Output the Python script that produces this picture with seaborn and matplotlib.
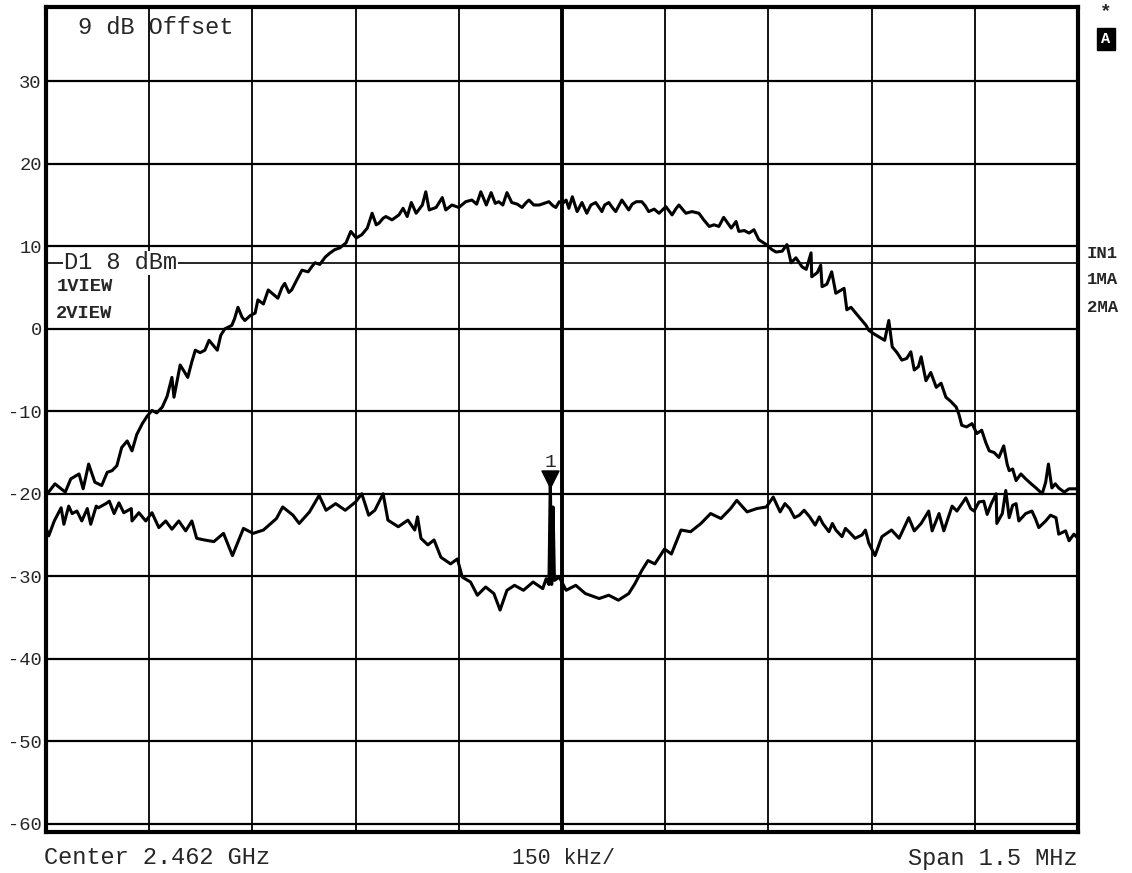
import numpy as np
import pandas as pd
import matplotlib
matplotlib.use("Agg")
import matplotlib.pyplot as plt
import seaborn as sns

# trace 1 (channel power), frequency offset from centre in kHz, level in dBm
upper_freq_khz = [
    -750, -737, -722, -714, -702, -696, -688, -679, -669, -661, -654, -647, -640, -632, -625,
    -618, -610, -603, -596, -589, -581, -574, -567, -564, -555, -549, -544, -538, -533, -526,
    -519, -513, -509, -501, -496, -490, -480, -476, -471, -465, -461, -453, -446, -442, -434,
    -427, -420, -413, -407, -403, -397, -393, -385, -378, -369, -363, -359, -352, -344, -337,
    -330, -323, -314, -307, -299, -291, -283, -276, -270, -266, -260, -256, -247, -237, -231,
    -225, -219, -212, -203, -198, -193, -183, -174, -169, -160, -150, -140, -131, -124, -118,
    -110, -103, -97, -92, -86, -80, -73, -65, -58, -52, -48, -41, -33, -26, -19,
    -13, -9, -4, 1, 6, 10, 15, 22, 29, 36, 42, 49, 58, 62, 68,
    74, 78, 87, 97, 102, 108, 116, 121, 126, 134, 141, 151, 160, 166, 170,
    180, 189, 199, 206, 214, 221, 228, 235, 246, 253, 257, 265, 272, 279, 286,
    297, 305, 311, 320, 327, 333, 340, 349, 355, 362, 363, 371, 376, 378, 385,
    392, 398, 404, 410, 414, 420, 427, 434, 442, 446, 453, 461, 469, 475, 480,
    487, 494, 501, 507, 512, 518, 522, 529, 536, 544, 551, 558, 565, 573, 577,
    581, 588, 596, 603, 610, 616, 621, 628, 635, 642, 647, 650, 655, 660, 667,
    674, 682, 689, 698, 703, 707, 712, 717, 722, 730, 737, 749,
]
upper_level_dbm = [
    -20.2, -18.8, -19.8, -18.2, -17.6, -19.4, -16.4, -18.6, -19.0, -17.4, -17.2, -16.6, -14.4, -13.6, -14.8,
    -12.8, -11.5, -10.6, -9.9, -10.2, -9.5, -8.2, -5.9, -8.3, -4.4, -5.2, -5.9, -4.0, -2.6, -2.9,
    -2.6, -1.4, -1.8, -2.6, -0.8, 0.0, 0.4, 1.2, 2.6, 1.4, 1.0, 1.6, 1.9, 3.5, 3.0,
    4.7, 4.2, 3.7, 5.0, 5.5, 4.4, 4.7, 6.0, 7.1, 6.9, 7.6, 8.0, 7.8, 8.7, 9.2,
    9.6, 9.8, 10.4, 11.8, 11.0, 11.4, 12.2, 14.0, 12.6, 12.8, 13.4, 13.6, 13.2, 13.8, 14.6,
    13.6, 15.3, 14.0, 15.0, 16.6, 14.4, 14.7, 15.9, 14.4, 15.0, 14.7, 15.4, 15.6, 15.1, 16.6,
    15.0, 16.5, 15.2, 15.4, 15.0, 16.5, 15.3, 15.1, 14.7, 15.3, 15.6, 15.0, 15.0, 15.2, 15.4,
    14.9, 14.7, 15.4, 15.2, 15.6, 14.6, 16.0, 14.2, 15.3, 14.0, 15.0, 15.3, 14.2, 15.0, 15.3,
    14.6, 14.2, 15.6, 14.4, 15.1, 15.4, 15.4, 14.9, 14.2, 14.5, 14.0, 14.8, 13.8, 14.6, 15.0,
    14.0, 14.2, 14.0, 13.2, 12.4, 12.6, 12.4, 13.5, 12.2, 13.0, 11.8, 11.9, 11.6, 12.0, 10.8,
    10.2, 9.6, 9.3, 9.4, 10.2, 8.0, 8.6, 7.5, 7.2, 9.2, 6.3, 6.8, 7.7, 5.1, 5.4,
    6.9, 4.3, 4.6, 4.9, 2.3, 2.6, 1.9, 1.2, 0.4, -0.2, -0.6, -1.0, -1.4, 1.0, -2.2,
    -2.9, -3.8, -3.6, -2.8, -5.0, -4.6, -3.4, -6.3, -5.3, -7.1, -6.6, -8.3, -8.8, -9.5, -10.4,
    -11.7, -11.9, -11.5, -12.7, -12.3, -13.8, -14.8, -15.0, -15.6, -14.2, -16.4, -17.2, -17.0, -18.4, -17.6,
    -18.2, -18.8, -19.3, -20.0, -18.6, -16.4, -19.3, -18.8, -19.3, -19.8, -19.4, -19.4,
]

# trace 2, same axes
lower_freq_khz = [
    -750, -746, -738, -728, -724, -717, -712, -705, -698, -690, -685, -677, -674, -663, -658,
    -651, -644, -637, -626, -625, -615, -605, -596, -586, -576, -567, -557, -547, -538, -531,
    -520, -506, -492, -479, -463, -449, -434, -415, -406,
    -391, -382, -367, -353, -343, -329, -315, -300, -291, -281, -272, -260, -253, -238, -224,
    -214, -210, -205, -195, -186, -176, -162, -152, -145, -133, -123, -111, -99, -90, -80,
    -69, -56, -42, -28, -23, -19, -17, -15, -13, -11, -4, 6, 20, 34, 54,
    68, 82, 97, 106, 116, 125, 135, 149, 159, 173, 187, 202, 216, 231, 245,
    254, 269, 283, 297, 307, 317, 324, 331, 338, 345, 352, 360, 368, 374, 379,
    388, 393, 398, 407, 412, 417, 426, 436, 441, 446, 455,
    465, 479, 490, 504, 512, 522, 533, 538, 548, 555, 567, 574, 587, 594, 599,
    606, 613, 618, 624, 631, 632, 640, 645, 650, 655, 660, 664, 674, 683, 688,
    693, 703, 710, 718, 722, 732, 737, 744, 750,
]
lower_level_dbm = [
    -24.1, -25.1, -23.3, -21.7, -23.7, -21.5, -22.4, -22.1, -23.3, -21.8, -23.7, -21.5, -21.7, -21.2, -20.9,
    -22.4, -21.1, -22.3, -21.8, -23.3, -22.3, -23.3, -22.3, -24.1, -23.3, -24.3, -23.3, -24.5, -23.3, -25.4,
    -25.6, -25.8, -24.8, -27.5, -24.2, -24.8, -24.4, -23.0, -21.6,
    -22.6, -23.6, -22.2, -20.2, -22.0, -21.2, -22.0, -21.0, -20.0, -22.6, -22.0, -20.0, -23.2, -24.0, -23.2,
    -24.4, -22.8, -25.4, -26.2, -25.6, -27.7, -28.5, -27.9, -30.1, -30.7, -32.3, -31.3, -32.1, -34.1, -31.7,
    -31.1, -31.7, -30.7, -31.5, -30.3, -31.0, -18.2, -31.0, -21.6, -30.5, -30.1, -31.7, -31.1, -32.1, -32.7,
    -32.3, -32.9, -32.1, -30.9, -29.3, -28.1, -28.5, -26.7, -27.3, -24.4, -24.6, -23.6, -22.4, -23.0, -21.8,
    -20.8, -22.2, -21.8, -21.6, -20.4, -22.2, -21.2, -21.8, -22.9, -22.6, -22.0, -22.8, -23.8, -22.8, -23.6,
    -24.6, -23.6, -24.4, -25.2, -24.2, -24.6, -25.4, -25.0, -24.4, -26.0, -27.5,
    -25.2, -24.4, -25.4, -22.9, -24.5, -23.6, -22.1, -24.5, -22.4, -24.5, -21.5, -22.1, -20.5, -21.8, -22.1,
    -21.0, -20.9, -22.5, -21.2, -20.0, -23.6, -22.4, -19.6, -22.9, -21.4, -21.2, -23.3, -22.4, -22.1, -23.0,
    -24.1, -23.3, -22.6, -22.9, -24.9, -24.5, -25.7, -24.9, -25.4,
]

y_ticks = [30, 20, 10, 0, -10, -20, -30, -40, -50, -60]
x_grid_khz = [-600, -450, -300, -150, 0, 150, 300, 450, 600]
display_line_dbm = 8
marker_khz = -17
marker_dbm = -18.2

sns.set_theme(style="white")
plt.rcParams['font.family'] = ['Liberation Mono', 'DejaVu Sans Mono']

upper = pd.DataFrame({"freq": upper_freq_khz, "level": upper_level_dbm})
lower = pd.DataFrame({"freq": lower_freq_khz, "level": lower_level_dbm})

fig = plt.figure(figsize=(11.32, 8.73), dpi=100)
ax = fig.add_axes([46 / 1132, 1 - 832 / 873, (1078 - 46) / 1132, (832 - 7) / 873])

# grid
for y in y_ticks:
    ax.axhline(y, color="black", lw=1.6, zorder=1)
for x in x_grid_khz:
    ax.axvline(x, color="black", lw=2.8 if x == 0 else 1.3, zorder=1)
ax.axhline(display_line_dbm, color="black", lw=1.2, zorder=1)

sns.lineplot(data=upper, x="freq", y="level", color="black", lw=2.2, ax=ax,
             estimator=None, sort=False, zorder=3)
sns.lineplot(data=lower, x="freq", y="level", color="black", lw=2.2, ax=ax,
             estimator=None, sort=False, zorder=3)

# marker 1
ax.scatter([marker_khz], [marker_dbm], marker="v", s=150, color="black", zorder=4)
ax.text(marker_khz, marker_dbm + 1.0, "1", ha="center", va="bottom", fontsize=14)

ax.set_xlim(-750, 750)
ax.set_ylim(-61, 39)
ax.set_yticks(y_ticks)
ax.set_yticklabels([str(v) for v in y_ticks], fontsize=13.5)
ax.set_xticks([])
ax.tick_params(axis="y", length=0, pad=3)
ax.set_xlabel("")
ax.set_ylabel("")
for s in ax.spines.values():
    s.set_color("black")
    s.set_linewidth(3)

# on-screen annotations
ax.text(0.031, 0.975, "9 dB Offset", transform=ax.transAxes, fontsize=17, va="center")
ax.text(-724, display_line_dbm, "D1 8 dBm", fontsize=17, va="center", ha="left",
        bbox=dict(facecolor="white", edgecolor="none", pad=0.5), zorder=2)
ax.text(-735, 5.1, "1VIEW", fontsize=13.5, fontweight="bold", va="center")
ax.text(-735, 1.8, "2VIEW", fontsize=13.5, fontweight="bold", va="center")

fig.text(1106 / 1132, 1 - 12 / 873, "*", fontsize=14, fontweight="bold", ha="center", va="center")
fig.text(1106 / 1132, 1 - 39 / 873, "A", fontsize=11, fontweight="bold", color="white",
         ha="center", va="center",
         bbox=dict(facecolor="black", edgecolor="black", pad=3))
for yy, lab in [(253, "IN1"), (280, "1MA"), (307, "2MA")]:
    fig.text(1087 / 1132, 1 - yy / 873, lab, fontsize=12.5, fontweight="bold", va="center")

fig.text(44 / 1132, 1 - 858 / 873, "Center 2.462 GHz", fontsize=17, va="center")
fig.text(563 / 1132, 1 - 858 / 873, "150 kHz/", fontsize=15.5, va="center", ha="center")
fig.text(1078 / 1132, 1 - 858 / 873, "Span 1.5 MHz", fontsize=17, va="center", ha="right")

fig.savefig("out.png", dpi=100, facecolor="white")
